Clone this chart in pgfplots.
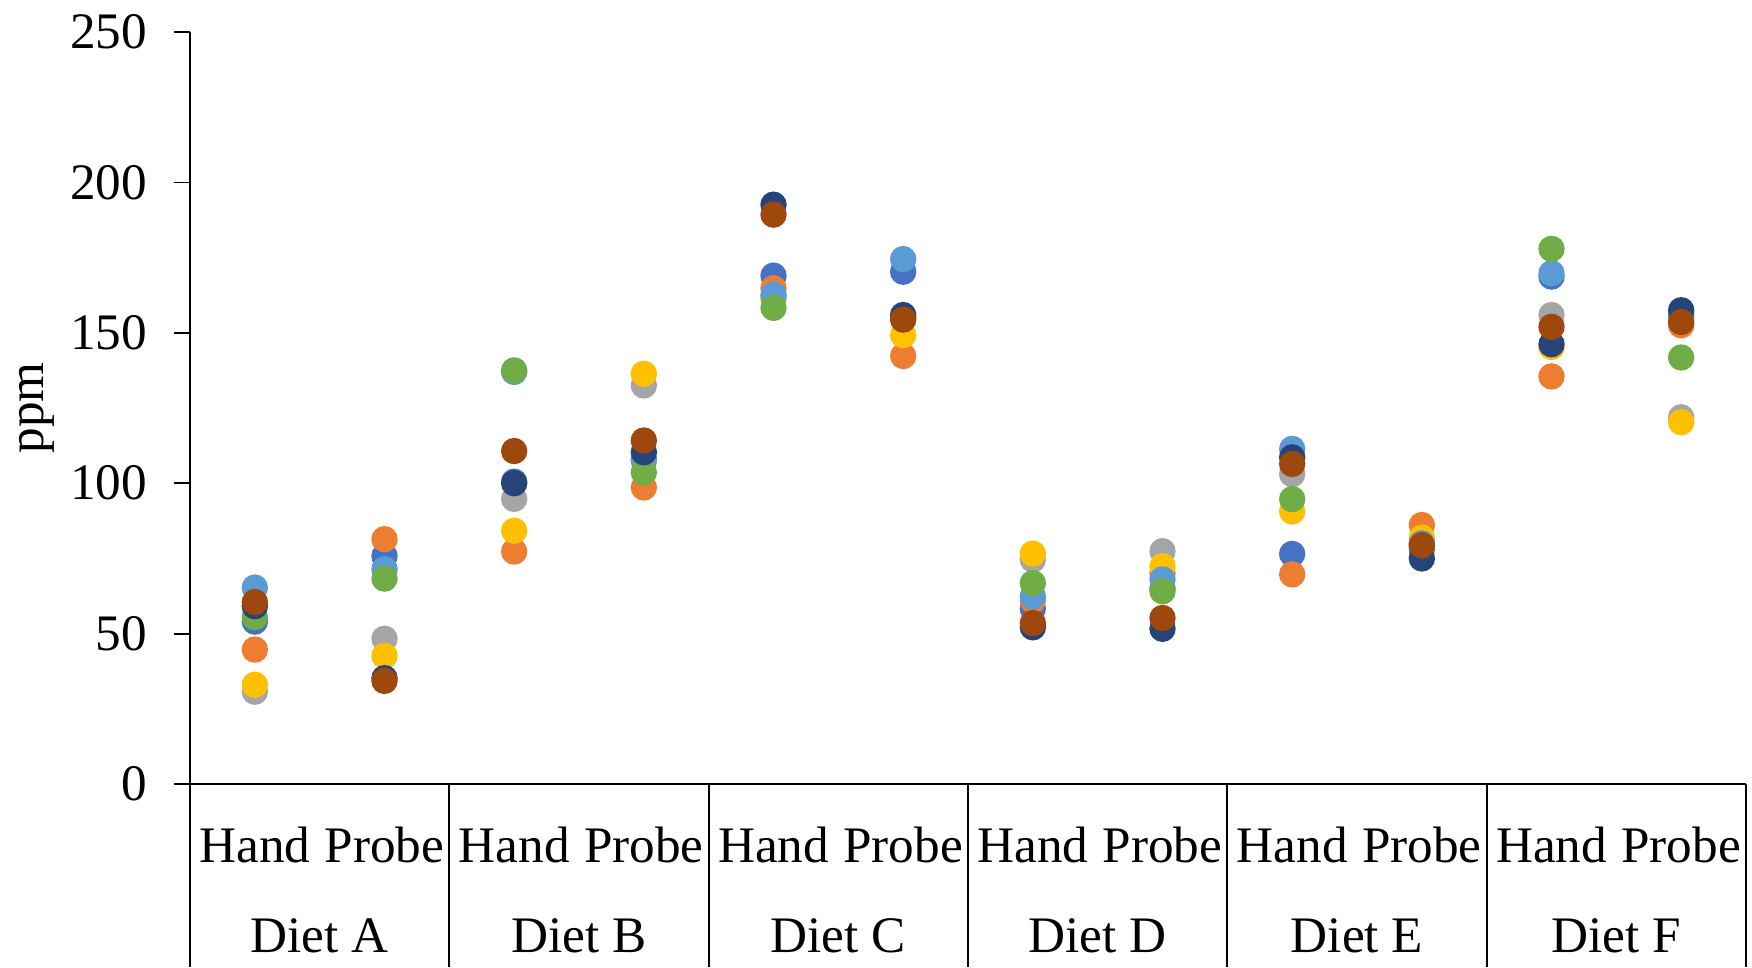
\documentclass[border=0pt]{standalone}
\usepackage{fontspec}
\setmainfont{Liberation Serif}
\usepackage{pgfplots}
\pgfplotsset{compat=1.18}
\definecolor{s1}{HTML}{4472C4}
\definecolor{s2}{HTML}{ED7D31}
\definecolor{s3}{HTML}{A5A5A5}
\definecolor{s4}{HTML}{FFC000}
\definecolor{s5}{HTML}{5B9BD5}
\definecolor{s6}{HTML}{70AD47}
\definecolor{s7}{HTML}{264478}
\definecolor{s8}{HTML}{9E480E}
\begin{document}
\begin{tikzpicture}
\begin{axis}[
  scale only axis, width=389pt, height=188pt,
  xmin=-0.5, xmax=11.5, ymin=0, ymax=250,
  axis lines=left, axis line style={-, line width=0.45pt, black},
  ytick={0,50,100,150,200,250},
  xtick={0,1,2,3,4,5,6,7,8,9,10,11},
  xticklabels={Hand,Probe,Hand,Probe,Hand,Probe,Hand,Probe,Hand,Probe,Hand,Probe},
  x tick style={draw=none},
  y tick style={line width=0.45pt, black},
  tick align=outside, major tick length=4pt,
  tick label style={font=\fontsize{12.8}{15}\selectfont},
  xticklabel style={anchor=base, inner sep=0pt, yshift=-15.5pt},
  yticklabel style={anchor=east, inner sep=0pt, xshift=-6.5pt},
  /pgf/number format/assume math mode=true,
  clip=false,
  every axis plot/.append style={only marks, mark=*, mark size=3.1pt},
]
\addplot[s1] coordinates {(0,54) (1,75.8) (2,100.5) (3,108) (4,169.0) (5,170.3) (6,58.3) (7,65) (8,76.5) (9,78) (10,168.7) (11,156)};
\addplot[s2] coordinates {(0,44.7) (1,81.4) (2,77.3) (3,98.6) (4,164.8) (5,142.3) (6,61) (7,70) (8,69.7) (9,86.1) (10,135.5) (11,152.5)};
\addplot[s3] coordinates {(0,30.7) (1,48.3) (2,94.8) (3,132.5) (4,162) (5,155) (6,74.6) (7,77.4) (8,103.0) (9,80) (10,155.9) (11,121.9)};
\addplot[s4] coordinates {(0,33.0) (1,42.6) (2,84.2) (3,136.4) (4,161) (5,149.2) (6,76.6) (7,72.4) (8,90.6) (9,81.9) (10,145.3) (11,120.3)};
\addplot[s5] coordinates {(0,65.3) (1,71.4) (2,137.0) (3,107.5) (4,162.6) (5,174.5) (6,62.4) (7,68.0) (8,111.4) (9,80) (10,169.8) (11,155)};
\addplot[s6] coordinates {(0,55.5) (1,68.3) (2,137.5) (3,103.6) (4,158.3) (5,155) (6,66.8) (7,64.1) (8,94.7) (9,79) (10,177.9) (11,141.8)};
\addplot[s7] coordinates {(0,59.1) (1,35.2) (2,100.0) (3,110.3) (4,192.6) (5,155.9) (6,52.1) (7,51.6) (8,108.6) (9,75.0) (10,146.2) (11,157.5)};
\addplot[s8] coordinates {(0,60.5) (1,34.3) (2,110.7) (3,114.2) (4,189.3) (5,154.4) (6,53.5) (7,55.2) (8,106.4) (9,79.4) (10,152.0) (11,153.6)};
\pgfplotsinvokeforeach{-0.5,1.5,3.5,5.5,7.5,9.5,11.5}{
  \draw[line width=0.45pt, black] (axis cs:#1,0) -- ([yshift=-45.75pt]axis cs:#1,0);
}
\node[anchor=base, font=\fontsize{12.8}{15}\selectfont, yshift=-42pt] at (axis cs:0.5,0) {Diet A};
\node[anchor=base, font=\fontsize{12.8}{15}\selectfont, yshift=-42pt] at (axis cs:2.5,0) {Diet B};
\node[anchor=base, font=\fontsize{12.8}{15}\selectfont, yshift=-42pt] at (axis cs:4.5,0) {Diet C};
\node[anchor=base, font=\fontsize{12.8}{15}\selectfont, yshift=-42pt] at (axis cs:6.5,0) {Diet D};
\node[anchor=base, font=\fontsize{12.8}{15}\selectfont, yshift=-42pt] at (axis cs:8.5,0) {Diet E};
\node[anchor=base, font=\fontsize{12.8}{15}\selectfont, yshift=-42pt] at (axis cs:10.5,0) {Diet F};
\end{axis}
\node[rotate=90, anchor=base, font=\fontsize{12.8}{15}\selectfont] at (-36.75pt,94pt) {ppm};
\pgfresetboundingbox
\path[use as bounding box] (-47.5pt,-45.75pt) rectangle (390.5pt,196pt);
\end{tikzpicture}
\end{document}
